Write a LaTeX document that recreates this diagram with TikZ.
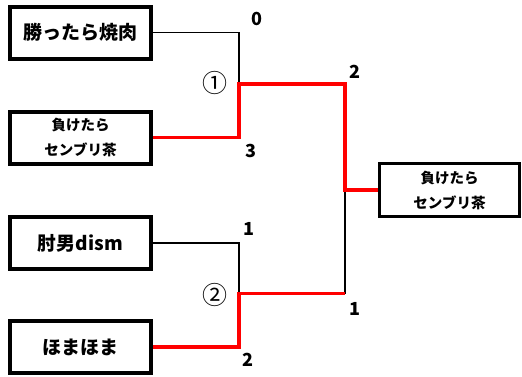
\documentclass[tikz,border=0pt]{standalone}
\usepackage{fontspec}
\newfontfamily\jp{Noto Sans CJK JP}
\begin{document}
\begin{tikzpicture}[x=1pt, y=-1pt]

        % スタイル
        \tikzstyle{team} = [rectangle, minimum width=141pt, minimum height=52pt, inner sep=0pt, text centered, draw=black, line width=4pt, font=\jp\bfseries\fontsize{19}{22}\selectfont]
        \tikzstyle{small} = [font=\jp\bfseries\fontsize{14.5}{25}\selectfont, align=center]
        \tikzstyle{champ} = [team, minimum width=140pt, minimum height=53pt, line width=3.3pt]
        \tikzstyle{score} = [font=\jp\bfseries\fontsize{18}{20}\selectfont]
        \tikzstyle{round} = [font=\jp\fontsize{25}{26}\selectfont]
        \tikzstyle{lose} = [line width=1.6pt, draw=black]
        \tikzstyle{win} = [line width=3.6pt, draw=red]

        \useasboundingbox (0,0) rectangle (522,376);

        % チーム
        \node (yakiniku) [team] at (80.5,32.5) {勝ったら焼肉};
        \node (senburi) [team, small] at (80.5,137.5) {負けたら\\センブリ茶};
        \node (dism) [team] at (80.5,243) {肘男dism};
        \node (homa) [team] at (80.5,347) {ほまほま};
        \node (winner) [champ, small] at (449.5,190) {負けたら\\センブリ茶};

        % 分岐点
        \coordinate (m1) at (239,84);
        \coordinate (m2) at (239,293.5);
        \coordinate (f) at (345,190);

        % 線
        \draw [lose] (yakiniku.east) -| (m1);
        \draw [lose] (dism.east) -| (m2);
        \draw [lose] (m2 -| f) -- (f);
        \draw [win] (homa.east) -| (m2) -- (m2 -| f);
        \draw [win] (senburi.east) -| (m1) -| (f) -- (winner.west);

        % スコア
        \node (s1) [score] at (257,19) {0};
        \node (s2) [score] at (251,151) {3};
        \node (s3) [score] at (249,229) {1};
        \node (s4) [score] at (248,360) {2};
        \node (s5) [score] at (355,72) {2};
        \node (s6) [score] at (355,309) {1};
        \node (r1) [round] at (215,83) {①};
        \node (r2) [round] at (215,295) {②};

    \end{tikzpicture}
\end{document}
